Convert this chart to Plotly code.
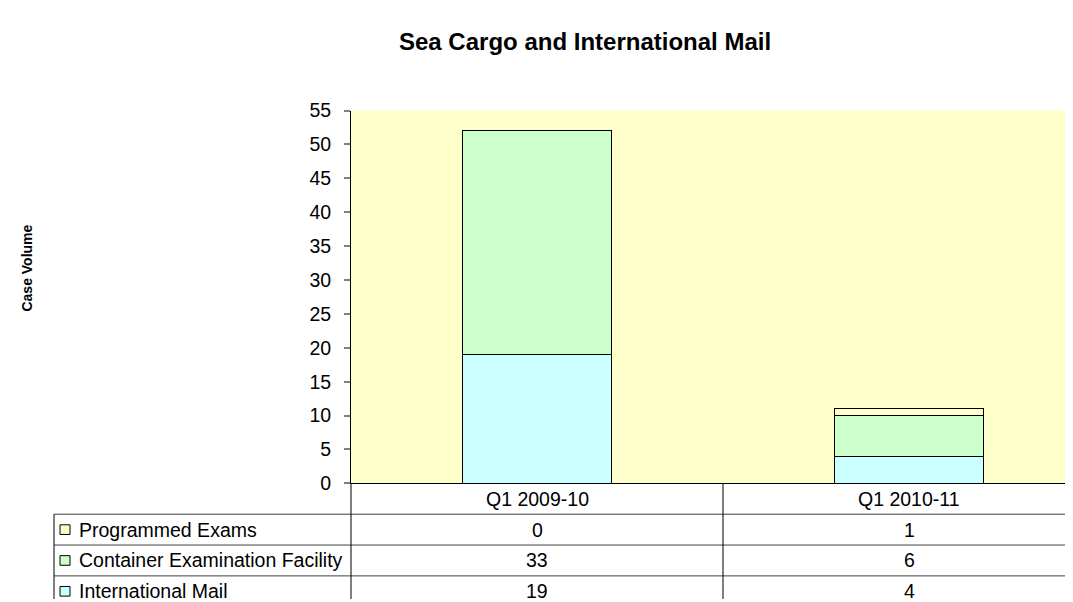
import plotly.graph_objects as go

# data
categories = ["Q1 2009-10", "Q1 2010-11"]
international_mail = [19, 4]
container_exam = [33, 6]
programmed_exams = [0, 1]

series = [
    ("International Mail", international_mail, "#CCFFFF"),
    ("Container Examination Facility", container_exam, "#CCFFCC"),
    ("Programmed Exams", programmed_exams, "#FFFFCC"),
]

W, H = 1073, 602
FONT = "Liberation Sans, Arial, sans-serif"


def px(x):
    return x / W


def py(y):
    return (H - y) / H


# plot area in pixels
left, top, bottom = 343, 95, 482
cat_w = 372  # pixel width of one category slot

fig = go.Figure()
for name, vals, color in series:
    fig.add_trace(go.Bar(
        x=categories, y=vals, name=name,
        marker=dict(color=color, line=dict(color="black", width=1)),
        width=0.403,
    ))

fig.update_layout(
    width=W, height=H,
    margin=dict(l=0, r=0, t=0, b=0),
    barmode="stack",
    showlegend=False,
    plot_bgcolor="#FFFFCC",
    paper_bgcolor="white",
    font=dict(family=FONT, size=19.5, color="black"),
    xaxis=dict(
        domain=[px(left), 1],
        range=[-0.5, -0.5 + (W - left) / cat_w],
        showticklabels=False, ticks="",
        showline=True, linecolor="black", linewidth=1,
        showgrid=False, zeroline=False,
    ),
    yaxis=dict(
        domain=[py(bottom), py(top)],
        range=[0, 55], dtick=5,
        ticks="outside", ticklen=6, tickcolor="#808080", tickwidth=2,
        ticklabelstandoff=9,
        showline=True, linecolor="black", linewidth=1,
        showgrid=False, zeroline=False,
    ),
)

# title and axis title
fig.add_annotation(text="<b>Sea Cargo and International Mail</b>", xref="paper", yref="paper",
                   x=px(577), y=py(23), xanchor="center", yanchor="middle",
                   showarrow=False, font=dict(size=24))
fig.add_annotation(text="<b>Case Volume</b>", xref="paper", yref="paper",
                   x=px(19), y=py(259), xanchor="center", yanchor="middle",
                   textangle=-90, showarrow=False, font=dict(size=14))

# data table grid
row_lines = [514, 546, 578]
for y in row_lines:
    fig.add_shape(type="line", xref="paper", yref="paper",
                  x0=px(46), x1=1, y0=py(y), y1=py(y), line=dict(color="#404040", width=1))
fig.add_shape(type="line", xref="paper", yref="paper", x0=px(46), x1=px(46),
              y0=py(514), y1=0, line=dict(color="black", width=1))
fig.add_shape(type="line", xref="paper", yref="paper", x0=px(left), x1=px(left),
              y0=py(bottom), y1=0, line=dict(color="black", width=1))
fig.add_shape(type="line", xref="x", yref="paper", x0=0.5, x1=0.5,
              y0=py(bottom), y1=0, line=dict(color="black", width=1))

# header
for c in categories:
    fig.add_annotation(text=c, xref="x", yref="paper", x=c, y=py(498),
                       xanchor="center", yanchor="middle", showarrow=False)

# rows: top row is the top series
row_centers = [530, 562, 594]
for (name, vals, color), yc in zip(reversed(series), row_centers):
    fig.add_shape(type="rect", xref="paper", yref="paper",
                  x0=px(52), x1=px(62), y0=py(yc - 5), y1=py(yc + 5),
                  fillcolor=color, line=dict(color="black", width=1))
    fig.add_annotation(text=name, xref="paper", yref="paper", x=px(69), y=py(yc),
                       xanchor="left", yanchor="middle", showarrow=False)
    for c, v in zip(categories, vals):
        fig.add_annotation(text=str(v), xref="x", yref="paper", x=c, y=py(yc),
                           xanchor="center", yanchor="middle", showarrow=False)

fig.write_html("out.html")
